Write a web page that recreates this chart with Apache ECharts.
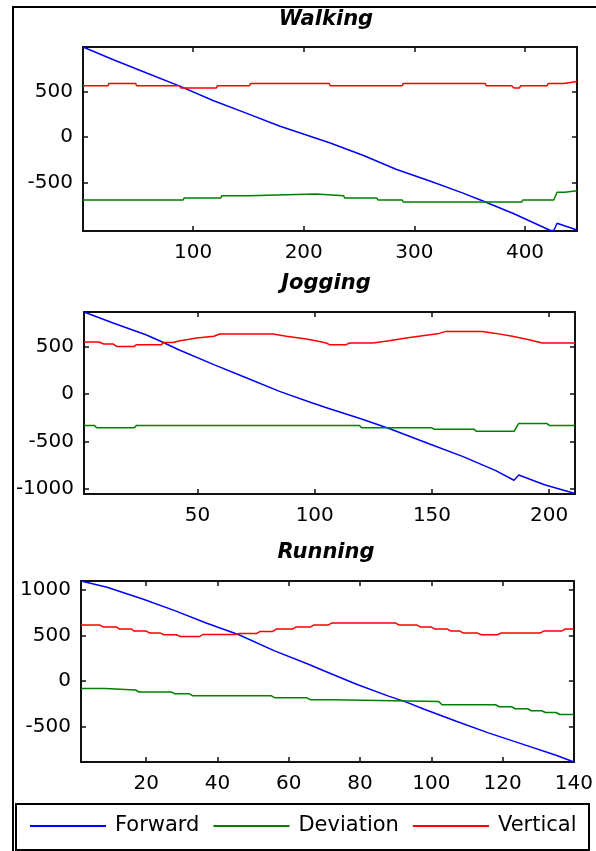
<!DOCTYPE html>
<html>
<head>
<meta charset="utf-8">
<script src="https://cdn.jsdelivr.net/npm/echarts@6/dist/echarts.min.js"></script>
<style>
html,body{margin:0;padding:0;background:#fff;}
#chart{width:596px;height:851px;}
</style>
</head>
<body>
<div id="chart"></div>
<script>
// ---------- DATA ----------
const seriesNames = ['Forward', 'Deviation', 'Vertical'];
const panelTitles = ['Walking', 'Jogging', 'Running'];

// Walking
const walkingXTicks = [100, 200, 300, 400];
const walkingYTicks = [-500, 0, 500];
const walkingXRange = [0.5, 447];
const walkingYRange = [-1023, 983];
const walkingForward = [[0.5,983],[28,844],[58,699],[88,556],[118,400],[148,262],[178,122],[224,-64],[254,-200],[284,-352],[314,-478],[344,-610],[362,-696],[390,-835],[423,-1018],[426,-1018],[429,-939],[447,-1012]];
const walkingDeviation = [[0.5,-685],[91,-685],[92,-663],[125,-663],[126,-638],[150,-638],[151,-619],[211,-619],[212,-638],[236,-638],[237,-663],[266,-663],[267,-685],[289,-685],[290,-707],[397,-707],[398,-685],[426,-685],[429,-600],[436,-600],[437,-583],[447,-583]];
const walkingVertical = [[0.5,560],[23,560],[24,586],[48,586],[49,560],[88,560],[89,535],[121,535],[122,560],[151,560],[152,586],[223,586],[224,560],[289,560],[290,586],[364,586],[365,560],[388,560],[390,535],[395,535],[396,560],[420,560],[421,586],[435,586],[436,607],[447,607]];

// Jogging
const joggingXTicks = [50, 100, 150, 200];
const joggingYTicks = [-1000, -500, 0, 500];
const joggingXRange = [1.6, 211];
const joggingYRange = [-1050, 865];
const joggingForward = [[1.6,865],[14,749],[28,626],[35,549],[42,468],[57,311],[71,170],[85,30],[99,-93],[106,-150],[120,-260],[132,-363],[149,-524],[163,-654],[177,-802],[185,-905],[187,-850],[198,-953],[211,-1045]];
const joggingDeviation = [[1.6,-328],[6,-328],[7,-353],[23,-353],[24,-328],[119,-328],[120,-353],[150,-353],[151,-370],[168,-370],[169,-391],[185,-391],[187,-307],[199,-307],[200,-328],[211,-328]];
const joggingVertical = [[1.6,549],[8,549],[10,529],[14,529],[15.5,503],[23,503],[24,521],[34.6,521],[35.4,545],[39.6,545],[42.5,563],[46,575],[49.6,592],[57,610],[59.5,634],[82.2,634],[87.9,609],[96.4,581],[101,560],[104.9,539],[106.3,521],[113.4,521],[114.8,539],[124.7,539],[131.8,563],[138.9,592],[146,616],[153,640],[155.9,661],[171.5,661],[177.2,640],[184.3,609],[191.4,574],[197,539],[211,539]];

// Running
const runningXTicks = [20, 40, 60, 80, 100, 120, 140];
const runningYTicks = [-500, 0, 500, 1000];
const runningXRange = [1.7, 140];
const runningYRange = [-890, 1099];
const runningForward = [[1.7,1099],[9,1031],[19,902],[28,773],[37,634],[46,508],[56,331],[65,192],[70,110],[79,-36],[88,-166],[93,-232],[98,-310],[107,-442],[116,-570],[126,-699],[135,-815],[140,-890]];
const runningDeviation = [[1.7,-81],[8.5,-81],[9,-99],[17,-99],[18,-121],[27,-121],[28,-139],[32,-139],[33,-161],[55,-161],[56,-183],[65,-183],[66,-205],[72.5,-205],[73,-224],[102,-224],[103,-261],[118,-261],[119,-283],[122.5,-283],[123.5,-305],[127,-305],[128,-327],[131,-327],[132,-346],[135,-346],[136,-368],[140,-368]];
const runningVertical = [[1.7,615],[7,615],[8,593],[11.7,593],[12.5,571],[15.9,571],[16.5,549],[20,549],[21,527],[24,527],[25,508],[28.5,508],[29.5,490],[35,490],[36,512],[45,512],[46,523],[51,523],[52,545],[55.5,545],[56.5,571],[61,571],[62,593],[66,593],[67,615],[71,615],[72,637],[90,637],[91,615],[96,615],[97,593],[100,593],[101,571],[104.5,571],[105.5,549],[108,549],[109,527],[113,527],[114,508],[118.5,508],[119.5,527],[130.5,527],[131.5,549],[136.5,549],[137.5,571],[140,571]];

// ---------- BUILD ----------
const colors = {Forward: '#0000ff', Deviation: '#008000', Vertical: '#ff0000'};
const FONT = 'DejaVu Sans';
const AX = '#111';

const panels = [
  {title: panelTitles[0], xr: walkingXRange, yr: walkingYRange, xt: walkingXTicks, yt: walkingYTicks,
   data: [walkingForward, walkingDeviation, walkingVertical],
   grid: {left: 83, top: 47, width: 494, height: 184}, ty: 20},
  {title: panelTitles[1], xr: joggingXRange, yr: joggingYRange, xt: joggingXTicks, yt: joggingYTicks,
   data: [joggingForward, joggingDeviation, joggingVertical],
   grid: {left: 84, top: 312, width: 491, height: 182}, ty: 284},
  {title: panelTitles[2], xr: runningXRange, yr: runningYRange, xt: runningXTicks, yt: runningYTicks,
   data: [runningForward, runningDeviation, runningVertical],
   grid: {left: 81, top: 581, width: 494, height: 181}, ty: 553}
];

function axisCommon(min, max, ticks, gi, pos, showLabel, isX) {
  return {
    type: 'value', gridIndex: gi, position: pos, min: min, max: max,
    axisLine: {show: true, onZero: false, lineStyle: {color: AX, width: 2}},
    axisTick: {show: true, inside: true, length: 5, customValues: ticks, lineStyle: {color: AX, width: 1.5}},
    axisLabel: showLabel ? {show: true, customValues: ticks, margin: isX ? 12 : 10, color: '#000', fontSize: 20, fontFamily: FONT,
                            formatter: function (v) { return String(v); }}
                         : {show: false},
    splitLine: {show: false}
  };
}

const grids = [], xAxis = [], yAxis = [], series = [], graphics = [];
panels.forEach((p, gi) => {
  grids.push(Object.assign({containLabel: false}, p.grid));
  xAxis.push(axisCommon(p.xr[0], p.xr[1], p.xt, gi, 'bottom', true, true));
  xAxis.push(axisCommon(p.xr[0], p.xr[1], p.xt, gi, 'top', false, true));
  yAxis.push(axisCommon(p.yr[0], p.yr[1], p.yt, gi, 'left', true, false));
  yAxis.push(axisCommon(p.yr[0], p.yr[1], p.yt, gi, 'right', false, false));
  seriesNames.forEach((name, si) => {
    series.push({
      name: name, type: 'line', xAxisIndex: 2 * gi, yAxisIndex: 2 * gi,
      data: p.data[si], showSymbol: false, symbol: 'none', clip: true,
      color: colors[name], lineStyle: {width: 1.5, color: colors[name]},
      emphasis: {disabled: true}, silent: true
    });
  });
  graphics.push({
    type: 'text', x: 326, y: p.ty,
    style: {text: p.title, fill: '#000', font: 'italic bold 21px "DejaVu Sans"', textAlign: 'center', textVerticalAlign: 'middle'}
  });
});

// outer frame (top + left) and legend box
graphics.push({type: 'line', shape: {x1: 12, y1: 7, x2: 596, y2: 7}, style: {stroke: '#000', lineWidth: 2}});
graphics.push({type: 'line', shape: {x1: 13, y1: 6, x2: 13, y2: 851}, style: {stroke: '#000', lineWidth: 2}});
graphics.push({type: 'rect', shape: {x: 16, y: 804, width: 573, height: 46}, style: {stroke: '#000', fill: 'none', lineWidth: 2}});

const chart = echarts.init(document.getElementById('chart'), null, {renderer: 'canvas'});
chart.setOption({
  backgroundColor: '#fff',
  animation: false,
  grid: grids,
  xAxis: xAxis,
  yAxis: yAxis,
  series: series,
  legend: {
    data: seriesNames, left: 30, top: 814, padding: 0, itemGap: 14,
    itemWidth: 76, itemHeight: 2, icon: 'rect', selectedMode: false,
    textStyle: {fontSize: 21, fontFamily: FONT, color: '#000', lineHeight: 24, padding: [0, 0, 0, 4]}
  },
  graphic: graphics
});
</script>
</body>
</html>
